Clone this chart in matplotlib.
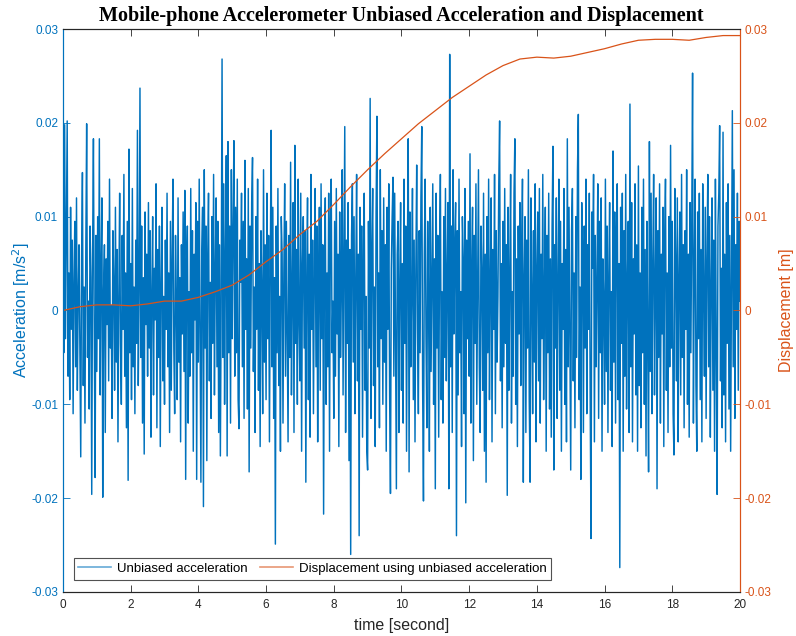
import numpy as np
import matplotlib
matplotlib.use("Agg")
import matplotlib.pyplot as plt

# sampling of the accelerometer record
fs = 40.0  # Hz
t_end = 20.0

# unbiased acceleration, in units of 1e-4 m/s^2 (one row = 0.5 s)
acc_e4 = [
    60, -45, 198, -30, 85, 202, -70, 40, -95, 110, -20, 75, -110, 30, 95, -60, 120, -85, 15, 70,
    -40, -156, 55, 147, -80, 25, -120, 65, 199, -50, 10, -105, 90, 35, -196, 60, 183, -25, -178, 80,
    -65, 100, -30, 183, -90, 45, 120, -199, 20, 70, -130, 55, -15, 95, -75, 140, -40, 5, -115, 85,
    30, -85, 110, -55, 65, -140, 15, 125, -35, -100, 80, -20, 145, -70, 40, -125, 95, -181, 172, -45,
    50, -95, 130, -60, 25, -110, 75, -35, 192, -80, 20, 237, -50, 90, -120, 35, -153, 105, -15, 60,
    -70, 115, -40, 85, -135, 20, 100, -90, 45, -10, 135, -125, 65, -50, 90, -145, 30, 110, -75, 15,
    -100, 75, -20, 125, -60, 40, -130, 95, -85, 55, 140, -40, -110, 80, 10, -95, 120, -55, 35, -140,
    70, -25, 105, -65, 128, -180, 45, 90, -120, 20, -70, 130, -45, 85, -150, 60, -10, 115, -180, 95,
    -55, 140, -20, -183, 65, 110, -209, 150, -40, 90, -160, 55, 125, -75, 30, -115, 100, -35, 145, -90,
    40, 120, -60, 95, -130, 70, -155, 15, 268, -50, 135, -100, 60, 165, -155, 180, -45, 90, -120, 150,
    -30, 85, 181, -70, 110, -45, 140, -95, -126, 75, 30, 125, -60, 95, -115, 160, -20, 55, -105, 130,
    -172, 90, -40, 115, 163, -65, 25, -130, 100, -20, 140, -85, 50, -145, 85, 20, -110, 150, -55, 70,
    -95, 125, -30, 80, -140, 45, 192, -60, 110, -115, 35, -249, 90, -45, 130, -80, 15, -150, 100, 60,
    -120, 40, 135, -70, 95, -25, -140, 80, -50, 158, -90, 20, 115, -130, 176, -35, 65, -100, 140, -10,
    -75, 125, -150, 50, 100, -40, 85, -183, 30, 120, -95, 60, -135, 145, -20, 75, -110, 40, 130, -60,
    90, -140, 25, 110, -85, 135, -30, 70, -217, 55, 120, -100, 40, -60, 125, -150, 85, 140, -45, 10,
    -115, 95, -70, 130, -25, 60, -145, 105, -50, 20, 150, -90, 45, 196, -130, 75, -35, 115, -160, 65,
    -260, 80, 135, -55, 100, -110, 30, 145, -75, 60, -240, 110, -20, 90, -135, 50, 125, -85, 15, -150,
    -170, 95, -40, 226, -115, 60, 130, -80, 25, -145, 105, 207, -60, 40, -125, 150, -30, 85, -100, 120,
    -55, 70, -150, 110, -20, 135, -90, -195, 45, 100, 142, -70, 125, -40, -190, 60, 95, -130, 30, 115,
    -85, 50, -120, 140, -35, 90, -150, 65, 183, -172, 105, -60, 20, 130, -95, 75, -140, 45, 155, -20,
    -110, 85, -45, 120, 196, -80, -203, 60, 140, -30, -125, 95, 15, -150, 110, -65, 35, 135, -100, 55,
    -190, 125, -40, 80, -135, 60, 145, -95, 20, -120, 100, -50, 130, -75, 40, 115, -190, 273, -60, 90,
    -130, 150, -25, 70, 115, -240, 85, -90, 140, -45, 20, -145, 100, 55, -110, 130, -205, 75, -30, 95,
    -70, 167, -120, 45, 110, -160, 80, -35, 135, -100, 25, 150, -60, -130, 90, 40, -85, 125, -150, 60,
    -183, 100, -45, 140, -95, 30, 120, -140, 65, -20, 145, -110, 85, -55, 15, 135, 202, -75, 50, -125,
    95, -60, 130, -35, 70, -197, 110, -85, 40, 145, -120, 20, -70, 125, 183, -100, 55, -145, 90, -25,
    115, -80, 60, 140, -183, 35, 100, -130, 75, -40, 150, -95, -183, 120, 25, -110, 85, -55, 135, -140,
    45, 105, -75, 130, -120, 60, -30, 145, -95, 20, 110, -150, 80, -45, 125, -105, 55, -135, 90, 175,
    -170, 70, -40, 120, -115, 30, 140, -85, 95, -150, 50, -20, 130, -100, 65, -140, 183, -60, 110, -35,
    -170, 85, 130, -75, 40, -125, 100, -50, 150, 209, -95, 25, -180, 115, 60, -130, 90, -40, 140, -110,
    70, -20, 125, -90, -243, 105, 45, 145, -140, 80, -60, 30, 135, -115, 95, -45, 120, -150, 55, 10,
    -100, 140, -65, 90, -130, 40, 115, -85, 20, -145, 170, -55, 105, -120, 75, 135, -95, 50, -274, 110,
    -35, 125, -150, 85, -70, 145, -105, 30, 95, -130, 220, -60, 115, -140, 55, -25, 135, -90, 70, -150,
    154, -80, 40, -125, 110, -45, 140, -100, 65, -155, 95, -30, -172, 180, -65, 125, -110, 50, 145, -90,
    30, 120, -190, 85, -50, 135, -120, 60, -25, 110, -145, 75, 140, -85, 40, -130, 100, -60, 176, -40,
    95, -110, -154, 130, 55, -75, 120, -140, 35, 105, -90, 145, -50, 70, -125, 85, -20, 150, -100, 60,
    -135, 115, -45, 90, 253, -120, 40, 140, -80, -150, 105, -30, 125, -95, 65, -140, 135, 20, -70, 110,
    -115, 55, 145, -60, 100, -135, 30, 120, -85, 75, -150, 140, -40, -196, 90, 125, 197, -75, 45, -125,
    190, -90, 60, -140, 115, -35, 135, -105, 80, -150, 40, 213, -60, 150, -115, 70, -20, 125, -85, 95,
    10,
]

# displacement from double integration [m]
disp_t = [0, 0.5, 1, 1.5, 2, 2.5, 3, 3.5, 4, 4.5, 5, 5.5, 6, 6.5, 7, 7.5, 8, 8.5, 9, 9.5, 10,
          10.5, 11, 11.5, 12, 12.5, 13, 13.5, 14, 14.5, 15, 15.5, 16, 16.5, 17, 17.5, 18, 18.5,
          19, 19.5, 20]
disp = [0.0, 0.0004, 0.0006, 0.0006, 0.0005, 0.0007, 0.0010, 0.0010, 0.0014, 0.0020, 0.0027,
        0.0038, 0.0052, 0.0065, 0.0081, 0.0095, 0.0113, 0.0132, 0.0150, 0.0167, 0.0183,
        0.0199, 0.0213, 0.0227, 0.0239, 0.0251, 0.0261, 0.0268, 0.0270, 0.0269, 0.0271,
        0.0275, 0.0279, 0.0284, 0.0288, 0.0289, 0.0289, 0.0288, 0.0291, 0.0293, 0.0293]

yticks = [-0.03, -0.02, -0.01, 0, 0.01, 0.02, 0.03]
ytick_labels = ['-0.03', '-0.02', '-0.01', '0', '0.01', '0.02', '0.03']

acc = np.array(acc_e4) * 1e-4
t = np.arange(len(acc)) / fs

blue = '#0072BD'
orange = '#D95319'
grey = '#262626'

plt.rcParams['font.family'] = ['Liberation Sans', 'DejaVu Sans']

fig = plt.figure(figsize=(7.96, 6.36), dpi=100)
ax = fig.add_axes([0.0791, 0.0692, 0.8505, 0.8852])
ax2 = ax.twinx()

l1, = ax.plot(t, acc, color=blue, linewidth=1.05, label='Unbiased acceleration')
l2, = ax2.plot(disp_t, disp, color=orange, linewidth=0.9,
               label='Displacement using unbiased acceleration')

ax.set_xlim(0, t_end)
ax.set_ylim(-0.03, 0.03)
ax2.set_ylim(-0.03, 0.03)
ax.set_xticks(np.arange(0, 21, 2))
ax.set_yticks(yticks)
ax2.set_yticks(yticks)
ax.set_yticklabels(ytick_labels)
ax2.set_yticklabels(ytick_labels)

ax.tick_params(axis='x', direction='in', length=5, width=0.6, colors=grey,
               labelsize=8.5, top=True, pad=5)
ax.tick_params(axis='y', direction='in', length=5, width=0.6, colors=blue, labelsize=8.5)
ax2.tick_params(axis='y', direction='in', length=5, width=0.6, colors=orange, labelsize=8.5)

for a in (ax, ax2):
    a.spines['top'].set_color(grey)
    a.spines['bottom'].set_color(grey)
    a.spines['left'].set_color(blue)
    a.spines['right'].set_color(orange)
    for s in a.spines.values():
        s.set_linewidth(0.8)

ax.set_xlabel('time [second]', fontsize=11.5, color=grey, labelpad=5)
ax.set_ylabel('Acceleration [m/s$^2$]', fontsize=11.5, color=blue, labelpad=-1)
ax2.set_ylabel('Displacement [m]', fontsize=11.5, color=orange, labelpad=5)
ax.set_title('Mobile-phone Accelerometer Unbiased Acceleration and Displacement',
             fontsize=14.5, fontweight='bold', family='Liberation Serif', pad=6)

leg = ax2.legend(handles=[l1, l2], loc='lower left', ncol=2, fontsize=9.5,
                 bbox_to_anchor=(0.016, 0.022), frameon=True, fancybox=False,
                 edgecolor=grey, handlelength=2.5, columnspacing=1.0,
                 borderpad=0.35, handletextpad=0.4, borderaxespad=0)
leg.get_frame().set_linewidth(0.8)
for h in leg.get_lines():
    h.set_linewidth(1.2)
    h.set_alpha(0.6)

fig.savefig('out.png', dpi=100)
